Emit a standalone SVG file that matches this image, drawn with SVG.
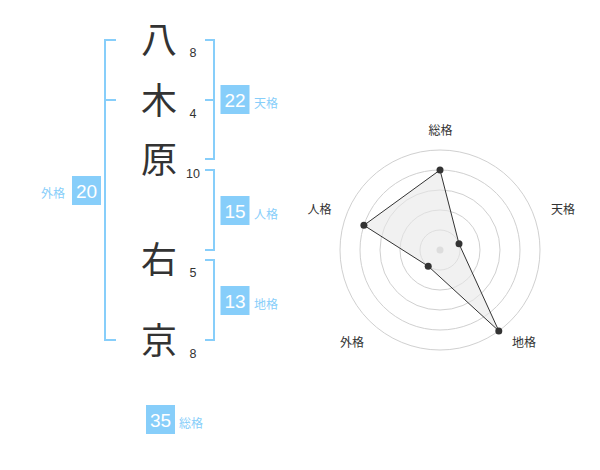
<svg xmlns="http://www.w3.org/2000/svg" width="600" height="470" viewBox="0 0 600 470">
<style>
.kj{font-family:"Noto Sans CJK JP","Noto Sans CJK SC",sans-serif;font-size:36px;fill:#333;text-anchor:middle}
.st{font-family:"Liberation Sans",Arial,sans-serif;font-size:12.5px;fill:#333;text-anchor:middle}
.br{fill:none;stroke:#87cefa;stroke-width:2}
.bx{fill:#87cefa}
.bn{font-family:"Liberation Sans",Arial,sans-serif;font-size:19px;fill:#fff;text-anchor:middle}
.lb{font-family:"Noto Sans CJK JP","Noto Sans CJK SC",sans-serif;font-size:12px;fill:#87cefa}
.ring{fill:none;stroke:#d0d0d0;stroke-width:1}
.rl{font-family:"Noto Sans CJK JP","Noto Sans CJK SC",sans-serif;font-size:12px;fill:#333;text-anchor:middle}
.pt{fill:#333}
</style>
<g id="name">
<g id="c1"><text class="kj" x="159" y="53">八</text><text class="st" x="193" y="57">8</text></g>
<g id="c2"><text class="kj" x="159" y="114">木</text><text class="st" x="193" y="118">4</text></g>
<g id="c3"><text class="kj" x="159" y="173">原</text><text class="st" x="193" y="177.5">10</text></g>
<g id="c4"><text class="kj" x="159" y="273">右</text><text class="st" x="193" y="277">5</text></g>
<g id="c5"><text class="kj" x="159" y="354">京</text><text class="st" x="193" y="357.5">8</text></g>
</g>
<g id="brackets">
<path class="br" d="M116,40 H105 V340 H116 M105,100 H116"/>
<path class="br" d="M205,40 H214 V159 H205 M205,100 H214"/>
<path class="br" d="M205,170 H214 V250 H205"/>
<path class="br" d="M205,260 H214 V340 H205"/>
</g>
<g id="gaikaku"><rect class="bx" x="72" y="176" width="29" height="29"/><text class="bn" x="86.5" y="197.5">20</text><text class="lb" x="53" y="198" text-anchor="middle">外格</text></g>
<g id="tenkaku"><rect class="bx" x="220.5" y="85" width="29" height="29"/><text class="bn" x="235" y="106.5">22</text><text class="lb" x="254" y="108">天格</text></g>
<g id="jinkaku"><rect class="bx" x="220.5" y="196" width="29" height="29"/><text class="bn" x="235" y="217.5">15</text><text class="lb" x="254" y="219">人格</text></g>
<g id="chikaku"><rect class="bx" x="220.5" y="286" width="29" height="29"/><text class="bn" x="235" y="307.5">13</text><text class="lb" x="254" y="309">地格</text></g>
<g id="soukaku"><rect class="bx" x="146" y="405" width="29" height="29"/><text class="bn" x="160.5" y="426.5">35</text><text class="lb" x="179" y="428">総格</text></g>
<g id="radar">
<circle class="ring" cx="440" cy="250" r="20"/>
<circle class="ring" cx="440" cy="250" r="40"/>
<circle class="ring" cx="440" cy="250" r="60"/>
<circle class="ring" cx="440" cy="250" r="80"/>
<circle class="ring" cx="440" cy="250" r="100"/>
<circle cx="440" cy="250" r="3.5" fill="#cccccc"/>
<polygon points="440,170 459,243.8 498.8,330.9 428.2,266.2 363.9,225.3" fill="#e8e8e8" fill-opacity="0.6" stroke="#333" stroke-width="1"/>
<circle class="pt" cx="440" cy="170" r="3.5"/>
<circle class="pt" cx="459" cy="243.8" r="3.5"/>
<circle class="pt" cx="498.8" cy="330.9" r="3.5"/>
<circle class="pt" cx="428.2" cy="266.2" r="3.5"/>
<circle class="pt" cx="363.9" cy="225.3" r="3.5"/>
<text class="rl" x="440.5" y="135">総格</text>
<text class="rl" x="563" y="213.5">天格</text>
<text class="rl" x="524" y="346.5">地格</text>
<text class="rl" x="352" y="346.5">外格</text>
<text class="rl" x="319.5" y="213.5">人格</text>
</g>
</svg>
